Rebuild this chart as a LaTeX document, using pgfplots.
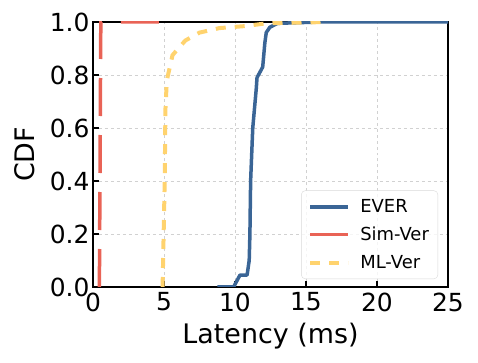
\documentclass[border=0pt]{standalone}
\usepackage{fontspec}
\setmainfont{DejaVu Sans}
\usepackage{pgfplots}
\pgfplotsset{compat=1.18}

\definecolor{everblue}{RGB}{58,101,150}
\definecolor{simred}{RGB}{233,99,86}
\definecolor{mlyellow}{RGB}{255,211,110}

\begin{document}
\begin{tikzpicture}
\begin{axis}[
  scale only axis,
  width=355bp, height=265bp,
  xmin=0, xmax=25, ymin=0, ymax=1,
  xtick={0,5,10,15,20,25},
  ytick={0,0.2,0.4,0.6,0.8,1.0},
  yticklabel style={/pgf/number format/fixed,/pgf/number format/fixed zerofill,/pgf/number format/precision=1},
  xticklabel style={yshift=-2bp},
  /pgf/number format/assume math mode=true,
  tick align=inside, tick pos=left,
  major tick length=6bp,
  tick style={black, line width=1.2bp},
  axis line style={line width=1.8bp},
  grid=major,
  grid style={dashed, black!18, line width=0.9bp},
  ticklabel style={font=\fontsize{25}{30}\selectfont},
  label style={font=\fontsize{27}{32}\selectfont},
  xlabel={Latency (ms)}, ylabel={CDF},
  xlabel style={yshift=-5bp},
  ylabel style={yshift=8bp},
  legend cell align=left,
  legend style={at={(rel axis cs:0.972,0.03)}, anchor=south east,
    draw=black!15, rounded corners=4bp, fill=white, fill opacity=0.8, text opacity=1,
    font=\fontsize{18}{22}\selectfont, row sep=9bp, column sep=8bp, inner sep=7bp},
  legend image code/.code={\draw[#1] (0bp,0bp) -- (38bp,0bp);},
]
\addplot[everblue, line width=3.5bp, line join=round] coordinates {
  (8.75,0) (9.9,0) (10.1,0.02) (10.35,0.045) (10.85,0.045) (11.0,0.1)
  (11.05,0.2) (11.1,0.4) (11.25,0.6) (11.5,0.75) (11.55,0.79) (11.75,0.81)
  (11.95,0.83) (12.1,0.92) (12.2,0.96) (12.45,0.98) (13.0,0.995) (16,1) (25,1)
};
\addlegendentry{EVER}
\addplot[simred, line width=3.5bp, dash pattern=on 38bp off 19bp] coordinates {
  (0.45,0) (0.5,0.5) (0.55,1) (5.0,1)
};
\addlegendentry{Sim-Ver}
\addplot[mlyellow, line width=4bp, dash pattern=on 10bp off 9bp] coordinates {
  (4.9,0) (5.05,0.4) (5.1,0.67) (5.2,0.78) (5.6,0.875) (6.5,0.93) (7.5,0.96)
  (8.9,0.977) (10.8,0.985) (12.2,0.995) (16.5,1)
};
\addlegendentry{ML-Ver}
\end{axis}
\path ([shift={(-93bp,-76bp)}]current axis.south west) rectangle ([shift={(30bp,22bp)}]current axis.north east);
\end{tikzpicture}
\end{document}
